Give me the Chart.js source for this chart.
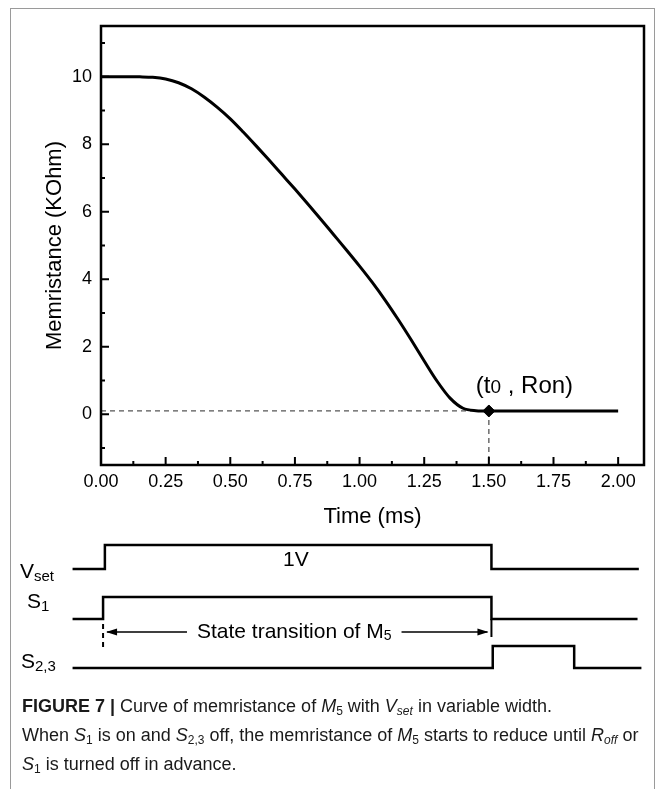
<!DOCTYPE html>
<html>
<head>
<meta charset="utf-8">
<title>Figure 7</title>
<script src="https://cdn.jsdelivr.net/npm/chart.js@4.4.0/dist/chart.umd.min.js"></script>
<style>
  body { margin: 0; background: #fff; width: 664px; height: 789px; overflow: hidden; position: relative;
         font-family: "Liberation Sans", Arial, sans-serif; color: #000; }
  .frame { position: absolute; left: 10px; top: 8px; width: 643px; height: 820px;
           border: 1.5px solid #9a9a9a; border-bottom: none; }
  canvas { position: absolute; left: 0; }
  .lbl { position: absolute; font-size: 21px; line-height: 1; white-space: nowrap; }
  .lbl sub { font-size: 15px; vertical-align: -3px; line-height: 0; }
  .caption { position: absolute; left: 22px; top: 692px;
             font-size: 18px; line-height: 29px; color: #1a1a1a; white-space: nowrap; }
  .caption sub { font-size: 12px; vertical-align: -3px; line-height: 0; }
</style>
</head>
<body>
<div class="frame"></div>
<canvas id="main" width="664" height="540" style="top:0"></canvas>
<canvas id="vset" width="664" height="45" style="top:535px"></canvas>
<canvas id="s1" width="664" height="80" style="top:585px"></canvas>
<canvas id="s23" width="664" height="50" style="top:635px"></canvas>

<div class="lbl" style="left:20px; top:560px">V<sub>set</sub></div>
<div class="lbl" style="left:27px; top:590px">S<sub>1</sub></div>
<div class="lbl" style="left:21px; top:650px">S<sub>2,3</sub></div>
<div class="lbl" style="left:283px; top:548px">1V</div>

<div class="caption">
  <div><b>FIGURE 7 |</b> Curve of memristance of <i>M</i><sub>5</sub> with <i>V<sub>set</sub></i> in variable width.</div>
  <div>When <i>S</i><sub>1</sub> is on and <i>S</i><sub>2,3</sub> off, the memristance of <i>M</i><sub>5</sub> starts to reduce until <i>R<sub>off</sub></i> or</div>
  <div><i>S</i><sub>1</sub> is turned off in advance.</div>
</div>

<script>
// memristance curve
const timeMs = [0, 0.1, 0.15, 0.2, 0.25, 0.3, 0.35, 0.4, 0.45, 0.5, 0.55, 0.6, 0.65, 0.7, 0.75, 0.8, 0.85,
                0.9, 0.95, 1.0, 1.05, 1.1, 1.15, 1.2, 1.25, 1.3, 1.35, 1.4, 1.45, 1.5, 1.75, 2.0];
const memristance = [10, 10, 9.995, 9.98, 9.93, 9.82, 9.64, 9.39, 9.09, 8.75, 8.36, 7.95, 7.53, 7.1, 6.67, 6.23, 5.78,
                     5.32, 4.86, 4.39, 3.9, 3.37, 2.8, 2.2, 1.58, 0.98, 0.48, 0.18, 0.11, 0.1, 0.1, 0.1];
const markT = [1.5];
const markR = [0.1];

const xTicks = [0, 0.125, 0.25, 0.375, 0.5, 0.625, 0.75, 0.875, 1.0, 1.125, 1.25, 1.375, 1.5, 1.625, 1.75, 1.875, 2.0];
const yTicks = [-1, 0, 1, 2, 3, 4, 5, 6, 7, 8, 9, 10, 11];

// timing diagram (time in ms, level 0/1)
const vsetT = [-0.11, 0.015, 0.015, 1.51, 1.51, 2.08];
const vsetL = [0, 0, 1, 1, 0, 0];
const s1T = [-0.11, 0.008, 0.008, 1.51, 1.51, 2.075];
const s1L = [0, 0, 1, 1, 0, 0];
const s23T = [-0.11, 1.515, 1.515, 1.83, 1.83, 2.09];
const s23L = [0, 0, 1, 1, 0, 0];
const transStart = 0.008, transEnd = 1.51;

const FONT = '"Liberation Sans", Arial, sans-serif';
const pts = (xs, ys) => xs.map((x, i) => ({x: x, y: ys[i]}));
const isMajor = (v, step) => Math.abs(v / step - Math.round(v / step)) < 1e-6;

const frameTicks = {
  id: 'frameTicks',
  afterDatasetsDraw(chart) {
    const {ctx, chartArea: a, scales: {x, y}} = chart;
    ctx.save();
    ctx.strokeStyle = '#000';
    ctx.lineWidth = 2;
    ctx.beginPath();
    xTicks.forEach(v => {
      const px = x.getPixelForValue(v);
      ctx.moveTo(px, a.bottom);
      ctx.lineTo(px, a.bottom - (isMajor(v, 0.25) ? 8 : 4));
    });
    yTicks.forEach(v => {
      const py = y.getPixelForValue(v);
      ctx.moveTo(a.left, py);
      ctx.lineTo(a.left + (isMajor(v, 2) ? 8 : 4), py);
    });
    ctx.stroke();
    ctx.lineWidth = 2.5;
    ctx.strokeRect(a.left, a.top, a.right - a.left, a.bottom - a.top);
    // point label
    const px = x.getPixelForValue(markT[0]), py = y.getPixelForValue(markR[0]);
    ctx.fillStyle = '#000';
    ctx.textBaseline = 'alphabetic';
    ctx.textAlign = 'left';
    let tx = px - 13;
    const by = py - 18;
    ctx.font = '24px ' + FONT;
    ctx.fillText('(t', tx, by); tx += ctx.measureText('(t').width;
    ctx.font = '19px ' + FONT;
    ctx.fillText('0', tx, by); tx += ctx.measureText('0').width;
    ctx.font = '24px ' + FONT;
    ctx.fillText(' , Ron)', tx, by);
    ctx.restore();
  }
};

new Chart(document.getElementById('main'), {
  type: 'line',
  data: {
    datasets: [
      { data: pts(timeMs, memristance), borderColor: '#000', borderWidth: 3, pointRadius: 0,
        cubicInterpolationMode: 'monotone', order: 1 },
      { data: pts([0, markT[0]], [markR[0], markR[0]]), borderColor: '#555', borderWidth: 1.3,
        borderDash: [5, 4], pointRadius: 0, order: 3 },
      { data: pts([markT[0], markT[0]], [markR[0], -1.5]), borderColor: '#555', borderWidth: 1.3,
        borderDash: [5, 4], pointRadius: 0, order: 3 },
      { data: pts(markT, markR), showLine: false, pointStyle: 'rectRot', pointRadius: 6,
        backgroundColor: '#000', borderColor: '#000', order: 0 }
    ]
  },
  options: {
    responsive: false, animation: false, events: [],
    layout: { padding: { top: 26, right: 20, left: 0, bottom: 0 } },
    plugins: { legend: { display: false }, tooltip: { enabled: false } },
    scales: {
      x: {
        type: 'linear', min: 0, max: 2.1,
        grid: { display: false, drawTicks: false }, border: { display: false },
        afterBuildTicks: s => { s.ticks = xTicks.map(v => ({value: v})); },
        afterFit: s => { s.height = 75; },
        ticks: { autoSkip: false, maxRotation: 0, padding: 6, color: '#000',
                 font: { family: FONT, size: 18 },
                 callback: v => isMajor(v, 0.25) ? v.toFixed(2) : '' },
        title: { display: true, text: 'Time (ms)', color: '#000', padding: { bottom: 10 },
                 font: { family: FONT, size: 22 } }
      },
      y: {
        type: 'linear', min: -1.5, max: 11.5,
        grid: { display: false, drawTicks: false }, border: { display: false },
        afterBuildTicks: s => { s.ticks = yTicks.map(v => ({value: v})); },
        afterFit: s => { s.width = 101; },
        ticks: { autoSkip: false, padding: 9, color: '#000',
                 font: { family: FONT, size: 18 },
                 callback: v => isMajor(v, 2) ? String(v) : '' },
        title: { display: true, text: 'Memristance (KOhm)', color: '#000', padding: { top: 42 },
                 font: { family: FONT, size: 22 } }
      }
    }
  },
  plugins: [frameTicks]
});

const transitionArrow = {
  id: 'transitionArrow',
  afterDatasetsDraw(chart) {
    const {ctx, chartArea: a, scales: {x}} = chart;
    const x0 = x.getPixelForValue(transStart), x1 = x.getPixelForValue(transEnd);
    const ay = a.bottom + 13;
    const label = 'State transition of M';
    ctx.save();
    ctx.font = '21px ' + FONT;
    const w = ctx.measureText(label).width;
    ctx.font = '14px ' + FONT;
    const w5 = ctx.measureText('5').width;
    const tw = w + w5;
    const cx = (x0 + x1) / 2 - 3;
    const tl = cx - tw / 2, tr = cx + tw / 2;
    ctx.strokeStyle = '#000'; ctx.fillStyle = '#000';
    ctx.lineWidth = 1.5;
    ctx.beginPath();
    ctx.moveTo(x0 + 4, ay); ctx.lineTo(tl - 10, ay);
    ctx.moveTo(tr + 10, ay); ctx.lineTo(x1 - 4, ay);
    ctx.stroke();
    ctx.beginPath();
    ctx.moveTo(x0 + 3, ay); ctx.lineTo(x0 + 14, ay - 3.5); ctx.lineTo(x0 + 14, ay + 3.5); ctx.closePath();
    ctx.moveTo(x1 - 3, ay); ctx.lineTo(x1 - 14, ay - 3.5); ctx.lineTo(x1 - 14, ay + 3.5); ctx.closePath();
    ctx.fill();
    // dashed drop at start, short bar at end
    ctx.lineWidth = 2;
    ctx.setLineDash([5, 4]);
    ctx.beginPath(); ctx.moveTo(x0, a.bottom + 5); ctx.lineTo(x0, a.bottom + 32); ctx.stroke();
    ctx.setLineDash([]);
    ctx.beginPath(); ctx.moveTo(x1, a.bottom); ctx.lineTo(x1, ay + 5); ctx.stroke();
    ctx.textBaseline = 'middle'; ctx.textAlign = 'left';
    ctx.font = '21px ' + FONT;
    ctx.fillText(label, tl, ay);
    ctx.font = '14px ' + FONT;
    ctx.fillText('5', tl + w, ay + 4);
    ctx.restore();
  }
};

function signalChart(id, ts, ls, padTop, padBottom, extra) {
  return new Chart(document.getElementById(id), {
    type: 'line',
    data: { datasets: [{ data: pts(ts, ls), borderColor: '#000', borderWidth: 2.5, pointRadius: 0,
                         clip: false, borderJoinStyle: 'miter' }] },
    options: {
      responsive: false, animation: false, events: [],
      layout: { padding: { top: padTop, bottom: padBottom, left: 101, right: 20 } },
      plugins: { legend: { display: false }, tooltip: { enabled: false } },
      scales: {
        x: { type: 'linear', min: 0, max: 2.1, display: false },
        y: { type: 'linear', min: 0, max: 1, display: false }
      }
    },
    plugins: extra ? [extra] : []
  });
}

signalChart('vset', vsetT, vsetL, 10, 11);
signalChart('s1', s1T, s1L, 12, 46, transitionArrow);
signalChart('s23', s23T, s23L, 11, 17);
</script>
</body>
</html>
